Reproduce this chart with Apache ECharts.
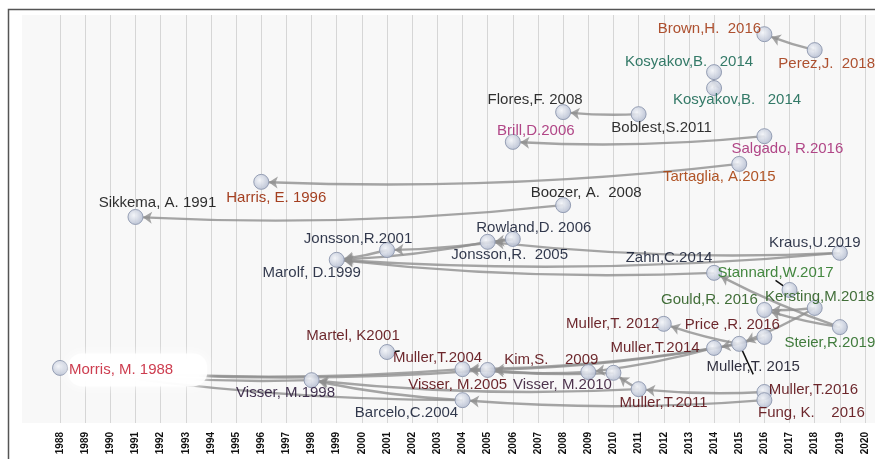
<!DOCTYPE html>
<html>
<head>
<meta charset="utf-8">
<title>Citation network</title>
<script src="https://cdn.jsdelivr.net/npm/echarts@6/dist/echarts.min.js"></script>
<style>
  html, body { margin: 0; padding: 0; background: #fff; }
  #chart { width: 875px; height: 459px; }
</style>
</head>
<body>
<div id="chart"></div>
<script>
// papers: key, label, year, vertical lane (0-100)
const nodeKeys = ['morris', 'sikkema', 'harris', 'visser98', 'marolf', 'jonsson01', 'martel', 'muller04',
  'barcelo', 'jonsson05', 'visser05', 'rowland', 'brill', 'flores', 'boozer', 'kim', 'visser10',
  'boblest', 'muller11', 'muller12', 'kosy1', 'kosy2', 'zahn', 'muller14', 'tartaglia', 'muller15',
  'brown', 'salgado', 'gould', 'price', 'muller16', 'fung', 'stannard', 'perez', 'kersting', 'kraus', 'steier'];
const nodeLabels = ['Morris, M. 1988', 'Sikkema, A. 1991', 'Harris, E. 1996', 'Visser, M.1998', 'Marolf, D.1999',
  'Jonsson,R.2001', 'Martel, K2001', 'Muller,T.2004', 'Barcelo,C.2004', 'Jonsson,R.  2005', 'Visser, M.2005',
  'Rowland,D. 2006', 'Brill,D.2006', 'Flores,F. 2008', 'Boozer, A.  2008', 'Kim,S.    2009', 'Visser, M.2010',
  'Boblest,S.2011', 'Muller,T.2011', 'Muller,T. 2012', 'Kosyakov,B.   2014', 'Kosyakov,B.   2014', 'Zahn,C.2014',
  'Muller,T.2014', 'Tartaglia, A.2015', 'Muller,T. 2015', 'Brown,H.  2016', 'Salgado, R.2016', 'Gould,R. 2016',
  'Price ,R. 2016', 'Muller,T.2016', 'Fung, K.    2016', 'Stannard,W.2017', 'Perez,J.  2018', 'Kersting,M.2018',
  'Kraus,U.2019', 'Steier,R.2019'];
const nodeYears = [1988, 1991, 1996, 1998, 1999, 2001, 2001, 2004, 2004, 2005, 2005, 2006, 2006, 2008, 2008, 2009, 2010,
  2011, 2011, 2012, 2014, 2014, 2014, 2014, 2015, 2015, 2016, 2016, 2016, 2016, 2016, 2016, 2017, 2018, 2018, 2019, 2019];
const nodeLanes = [13.5, 50.5, 59.1, 10.5, 40.0, 42.4, 17.4, 13.2, 5.6, 44.4, 13.0, 45.1, 68.9, 76.2, 53.4, 12.5, 12.3,
  75.7, 8.3, 24.3, 86.0, 82.1, 36.8, 18.4, 63.5, 19.4, 95.3, 70.3, 27.7, 21.1, 7.6, 5.6, 32.6, 91.4, 28.2, 41.7, 23.5];

// citing -> cited
const citations = [
  ['perez', 'brown'], ['kosy2', 'kosy1'], ['boblest', 'flores'], ['salgado', 'brill'],
  ['tartaglia', 'harris'], ['boozer', 'sikkema'],
  ['jonsson01', 'marolf'], ['jonsson05', 'marolf'], ['rowland', 'jonsson01'], ['rowland', 'jonsson05'],
  ['zahn', 'marolf'], ['kraus', 'marolf'], ['kraus', 'jonsson05'], ['steier', 'zahn'],
  ['kersting', 'gould'], ['steier', 'gould'], ['kersting', 'muller15'], ['muller15', 'muller12'],
  ['price', 'muller14'], ['muller14', 'muller04'], ['muller15', 'visser05'], ['muller14', 'kim'],
  ['kim', 'muller04'], ['visser10', 'visser05'], ['muller04', 'morris'], ['visser05', 'morris'],
  ['visser98', 'morris'], ['barcelo', 'morris'], ['barcelo', 'visser98'], ['muller11', 'visser98'],
  ['muller11', 'visser10'], ['muller16', 'muller11'], ['fung', 'barcelo']
];

const yearTicks = { min: 1988, max: 2020, step: 1 };

// label styling (colour + offset from the node centre, px)
const labelColors = {
  morris: '#c8283c', sikkema: '#151515', harris: '#9a2a08', visser98: '#2c1b3c', marolf: '#1b2238',
  jonsson01: '#1b2238', martel: '#5c0e14', muller04: '#5c0e14', barcelo: '#1b2238', jonsson05: '#1b2238',
  visser05: '#5c0e14', rowland: '#1b2238', brill: '#a8327a', flores: '#1a1a1a', boozer: '#151515',
  kim: '#5c0e14', visser10: '#3a1d3a', boblest: '#1a1a1a', muller11: '#5c0e14', muller12: '#5c0e14',
  kosy1: '#1e6b58', kosy2: '#1e6b58', zahn: '#1b2238', muller14: '#5c0e14', tartaglia: '#a8420f',
  muller15: '#1a1a2a', brown: '#a53e1a', salgado: '#a8327a', gould: '#2c5e22', price: '#5c0e14',
  muller16: '#5c0e14', fung: '#5c0e14', stannard: '#2f7a2a', perez: '#a53e1a', kersting: '#2c5e22',
  kraus: '#1b2238', steier: '#2c6e28'
};
const labelOffsets = {
  morris: [-2, 2], sikkema: [22, -14], harris: [15, 16], visser98: [-26, 13], marolf: [-25, 13],
  jonsson01: [-29, -11], martel: [-34, -16], muller04: [-25, -11], barcelo: [-56, 13], jonsson05: [22, 13],
  visser05: [-30, 15], rowland: [21, -11], brill: [23, -11], flores: [-28, -12], boozer: [23, -12],
  kim: [-37, -12], visser10: [-51, 12], boblest: [23, 14], muller11: [25, 14], muller12: [-51, 0],
  kosy1: [-25, -10], kosy2: [23, 12], zahn: [-45, -15], muller14: [-59, 0], tartaglia: [-20, 13],
  muller15: [14, 23], brown: [-55, -5], salgado: [23, 13], gould: [-55, -10], price: [-32, -12],
  muller16: [49, -2], fung: [47, 13], stannard: [-14, -17], perez: [12, 14], kersting: [5, -11],
  kraus: [-25, -10], steier: [-10, 16]
};
const leaderLines = ['martel', 'stannard', 'muller15'];

const chartDom = document.getElementById('chart');
const myChart = echarts.init(chartDom, null, { renderer: 'canvas' });

const nodes = nodeKeys.map((key, i) => {
  const item = {
    id: key,
    name: nodeLabels[i],
    value: [nodeYears[i], nodeLanes[i]],
    label: {
      color: labelColors[key],
      offset: labelOffsets[key]
    }
  };
  if (key === 'morris') {
    item.label = {
      color: labelColors[key],
      position: 'right',
      distance: 2,
      offset: labelOffsets[key],
      backgroundColor: '#ffffff',
      padding: [9, 34, 9, 1],
      borderRadius: 14,
      shadowColor: '#ffffff',
      shadowBlur: 10
    };
  }
  if (leaderLines.includes(key)) {
    item.labelLine = { show: true, lineStyle: { color: '#111', width: 1.5 } };
  }
  return item;
});

const links = citations.map(([src, dst]) => ({ source: src, target: dst }));

const option = {
  animation: false,
  backgroundColor: '#ffffff',
  grid: {
    left: 60,
    right: 10,
    top: 15,
    bottom: 36
  },
  graphic: [
    {
      type: 'rect',
      z: -10,
      shape: { x: 22, y: 15, width: 860, height: 408 },
      style: { fill: '#f8f8f8' },
      silent: true
    },
    {
      type: 'rect',
      z: 100,
      shape: { x: 8.5, y: 9.5, width: 900, height: 500 },
      style: { fill: 'none', stroke: '#555', lineWidth: 1.5 },
      silent: true
    }
  ],
  xAxis: {
    type: 'value',
    min: yearTicks.min,
    max: yearTicks.max,
    interval: yearTicks.step,
    axisLine: { show: false },
    axisTick: { show: false },
    splitLine: { show: true, lineStyle: { color: '#d6d6d6', width: 1 } },
    axisLabel: {
      rotate: 90,
      fontSize: 10,
      fontWeight: 'bold',
      color: '#111',
      margin: 9,
      fontFamily: 'Liberation Sans, Arial, sans-serif',
      formatter: v => String(v)
    }
  },
  yAxis: {
    type: 'value',
    min: 0,
    max: 100,
    show: false
  },
  series: [
    {
      type: 'graph',
      coordinateSystem: 'cartesian2d',
      layout: 'none',
      data: nodes,
      links: links,
      symbol: 'circle',
      symbolSize: 15,
      edgeSymbol: ['none', 'arrow'],
      edgeSymbolSize: [0, 9],
      itemStyle: {
        color: {
          type: 'radial', x: 0.4, y: 0.4, r: 0.7,
          colorStops: [
            { offset: 0, color: '#f3f5f9' },
            { offset: 1, color: '#aeb7cc' }
          ]
        },
        borderColor: '#8d97ae',
        borderWidth: 1,
        opacity: 0.9
      },
      lineStyle: {
        color: '#8f8f8f',
        width: 2.4,
        opacity: 0.8,
        curveness: 0.04
      },
      label: {
        show: true,
        position: 'inside',
        formatter: '{b}',
        fontSize: 15,
        fontFamily: 'Liberation Sans, Arial, sans-serif'
      },
      emphasis: { disabled: true }
    }
  ]
};

myChart.setOption(option);

window.addEventListener('resize', () => {
  myChart.resize();
});
</script>
</body>
</html>
